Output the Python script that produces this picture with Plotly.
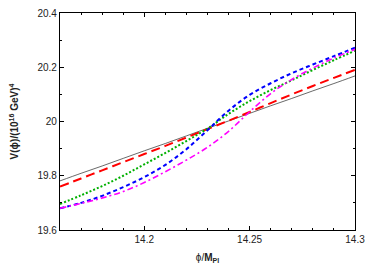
import plotly.graph_objects as go

phi = [14.16, 14.17, 14.18, 14.19, 14.20, 14.21, 14.22, 14.23,
       14.24, 14.25, 14.26, 14.27, 14.28, 14.29, 14.30]

v_thin = [19.781, 19.809, 19.836, 19.864, 19.892, 19.919, 19.947, 19.975,
          20.002, 20.030, 20.058, 20.085, 20.113, 20.140, 20.168]
v_red = [19.760, 19.790, 19.820, 19.850, 19.880, 19.910, 19.941, 19.972,
         20.003, 20.035, 20.068, 20.100, 20.131, 20.161, 20.190]
v_green = [19.696, 19.728, 19.762, 19.800, 19.842, 19.884, 19.928, 19.974,
           20.028, 20.075, 20.116, 20.152, 20.190, 20.226, 20.261]
v_blue = [19.680, 19.700, 19.726, 19.758, 19.795, 19.840, 19.898, 19.968,
          20.040, 20.098, 20.141, 20.178, 20.210, 20.241, 20.272]
v_magenta = [19.680, 19.698, 19.718, 19.742, 19.775, 19.815, 19.858, 19.905,
             19.964, 20.036, 20.103, 20.155, 20.197, 20.234, 20.266]

fig = go.Figure()
fig.add_trace(go.Scatter(x=phi, y=v_thin, mode="lines",
                         line=dict(color="#444444", width=0.8), line_shape="spline"))
fig.add_trace(go.Scatter(x=phi, y=v_red, mode="lines",
                         line=dict(color="#ff0000", width=2, dash="9px,5px"), line_shape="spline"))
fig.add_trace(go.Scatter(x=phi, y=v_green, mode="lines",
                         line=dict(color="#00b000", width=2, dash="2px,2px"), line_shape="spline"))
fig.add_trace(go.Scatter(x=phi, y=v_blue, mode="lines",
                         line=dict(color="#0000ff", width=2, dash="4px,3px"), line_shape="spline"))
fig.add_trace(go.Scatter(x=phi, y=v_magenta, mode="lines",
                         line=dict(color="#ff00ff", width=1.6, dash="6px,3px,2px,3px"), line_shape="spline"))

axis_common = dict(showgrid=False, zeroline=False, showline=True, mirror="ticks",
                   linecolor="black", linewidth=1.2, ticks="inside", ticklen=4,
                   tickcolor="black", automargin=False, ticklabeloverflow="allow",
                   tickfont=dict(family="Liberation Sans", size=10, color="#222"))

fig.update_xaxes(range=[14.16, 14.30],
                 tickvals=[14.2, 14.25, 14.3], ticktext=["14.2", "14.25", "14.3"],
                 minor=dict(dtick=0.01, tick0=14.16, ticks="inside", ticklen=2, tickcolor="black"),
                 title=dict(text="ϕ/<b>M<sub>Pl</sub></b>", standoff=9,
                            font=dict(family="Liberation Sans", size=10, color="#222")),
                 **axis_common)
fig.update_yaxes(range=[19.6, 20.4], tickvals=[19.6, 19.8, 20.0, 20.2, 20.4],
                 ticktext=["19.6", "19.8", "20", "20.2", "20.4"],
                 minor=dict(dtick=0.1, tick0=19.6, ticks="inside", ticklen=2, tickcolor="black"),
                 title=dict(text="<b>V(ϕ)/(10<sup>16</sup> GeV)<sup>4</sup></b>", standoff=18,
                            font=dict(family="Liberation Sans", size=10, color="#222")),
                 **axis_common)

# page body keeps an 8px default margin: figure spans page x 8-366, y 8-264,
# so the plot area lands at x 60-355, y 13-230 without scrollbars
fig.update_layout(width=358, height=256, showlegend=False,
                  margin=dict(l=52, r=11, t=5, b=34),
                  plot_bgcolor="white", paper_bgcolor="white")

fig.write_html("out.html")
